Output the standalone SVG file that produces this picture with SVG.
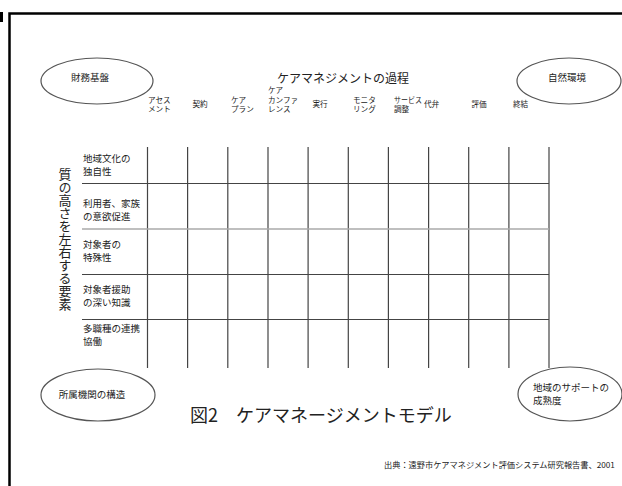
<svg xmlns="http://www.w3.org/2000/svg" width="622" height="486" viewBox="0 0 622 486">
<style>
text{font-family:"Noto Sans CJK JP","Noto Sans",sans-serif;fill:#222}
.h{font-size:7.6px}
.r{font-size:9.5px}
.e{fill:none;stroke:#555;stroke-width:1.2}
.g{stroke:#444;stroke-width:1.2}
.gl{stroke:#aaa;stroke-width:1.5}
</style>
<rect x="0" y="0" width="622" height="486" fill="#fff"/>
<rect x="0" y="12" width="3" height="10" fill="#000"/>
<path d="M9.5 486 V13.5 H622" fill="none" stroke="#000" stroke-width="2.5"/>

<text x="343" y="83" font-size="12" text-anchor="middle">ケアマネジメントの過程</text>

<g id="node-zaimu"><ellipse class="e" cx="97" cy="81" rx="56" ry="23"/><text x="90" y="81" font-size="9.5" text-anchor="middle">財務基盤</text></g>
<g id="node-shizen"><ellipse class="e" cx="569" cy="81" rx="52" ry="23"/><text x="567" y="81" font-size="9.5" text-anchor="middle">自然環境</text></g>
<g id="node-shozoku"><ellipse class="e" cx="98" cy="395" rx="57" ry="26"/><text x="92" y="398" font-size="9.5" text-anchor="middle">所属機関の構造</text></g>
<g id="node-chiiki"><ellipse class="e" cx="570" cy="394" rx="52" ry="27"/><text x="533" y="390.5" font-size="9.5">地域のサポートの</text><text x="533" y="403.5" font-size="9.5">成熟度</text></g>

<g id="headers" class="h">
<text x="148" y="102.5">アセス</text><text x="148" y="112">メント</text>
<text x="192.5" y="107">契約</text>
<text x="231" y="102.5">ケア</text><text x="231" y="112">プラン</text>
<text x="268" y="93">ケア</text><text x="268" y="102.5">カンファ</text><text x="268" y="112">レンス</text>
<text x="312.5" y="107">実行</text>
<text x="353" y="102.5">モニタ</text><text x="353" y="112">リング</text>
<text x="394" y="102.5" textLength="28" lengthAdjust="spacingAndGlyphs">サービス</text><text x="394" y="112">調整</text>
<text x="424" y="107">代弁</text>
<text x="471.5" y="107">評価</text>
<text x="513" y="107">終結</text>
</g>

<g id="grid">
<g class="g">
<line x1="147.5" y1="147" x2="147.5" y2="368"/>
<line x1="187.6" y1="147" x2="187.6" y2="368"/>
<line x1="227.8" y1="147" x2="227.8" y2="368"/>
<line x1="268" y1="147" x2="268" y2="368"/>
<line x1="308.1" y1="147" x2="308.1" y2="368"/>
<line x1="348.3" y1="147" x2="348.3" y2="368"/>
<line x1="388.4" y1="147" x2="388.4" y2="368"/>
<line x1="428.6" y1="147" x2="428.6" y2="368"/>
<line x1="468.7" y1="147" x2="468.7" y2="368"/>
<line x1="508.9" y1="147" x2="508.9" y2="368"/>
<line x1="549" y1="147" x2="549" y2="368"/>
<line x1="82" y1="183.5" x2="549" y2="183.5"/>
<line x1="82" y1="274.5" x2="549" y2="274.5"/>
<line x1="82" y1="319.5" x2="549" y2="319.5"/>
</g>
<line class="gl" x1="82" y1="229" x2="549" y2="229"/>
</g>

<g id="rows" class="r">
<text x="83" y="161.5">地域文化の</text><text x="83" y="175">独自性</text>
<text x="83" y="206.5">利用者、家族</text><text x="83" y="219.5">の意欲促進</text>
<text x="83" y="247.5">対象者の</text><text x="83" y="260.5">特殊性</text>
<text x="83" y="292.5">対象者援助</text><text x="83" y="305.5">の深い知識</text>
<text x="83" y="331.5">多職種の連携</text><text x="83" y="344.5">協働</text>
</g>

<text x="65" y="168" font-size="13" writing-mode="vertical-rl" style="writing-mode:vertical-rl">質の高さを左右する要素</text>

<text font-size="18" y="422"><tspan x="190">図2</tspan><tspan x="236">ケアマネージメントモデル</tspan></text>
<text x="384" y="468" font-size="8.2">出典：遠野市ケアマネジメント評価システム研究報告書、2001</text>
</svg>
